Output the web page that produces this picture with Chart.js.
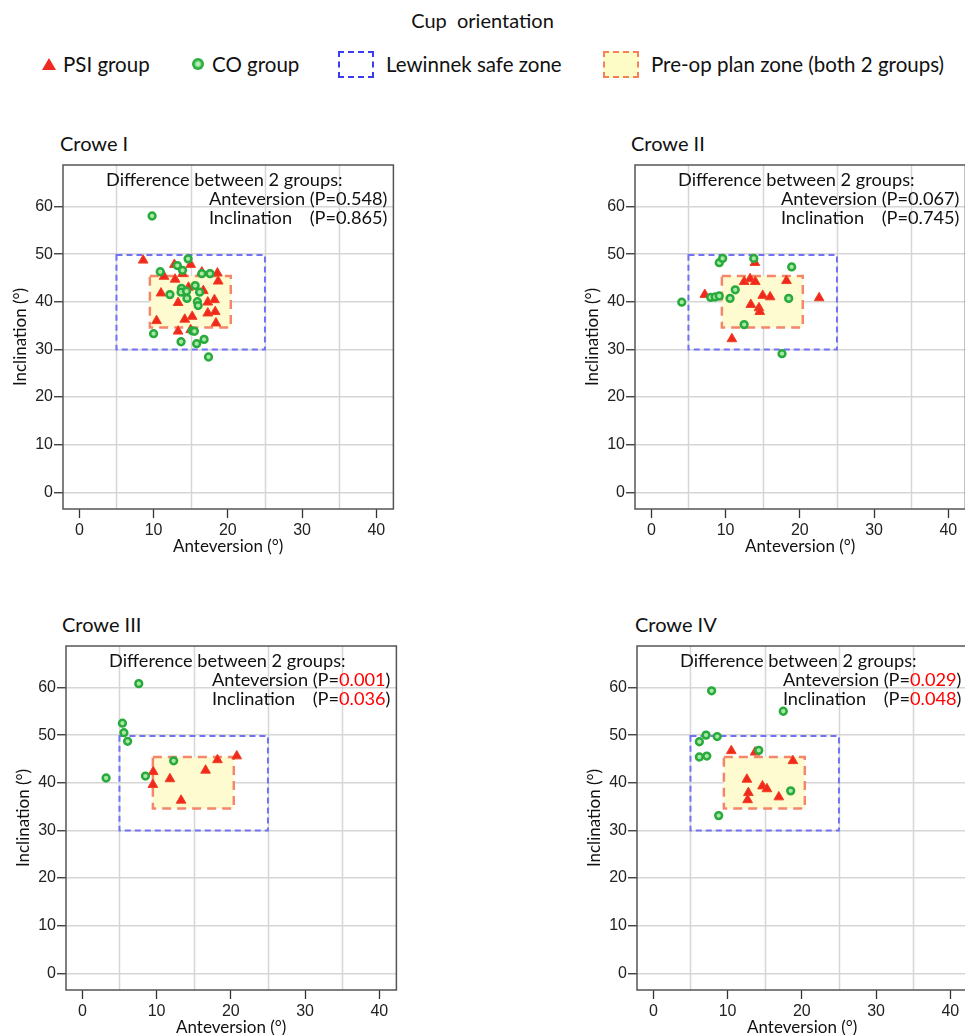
<!DOCTYPE html>
<html>
<head>
<meta charset="utf-8">
<script src="https://cdn.jsdelivr.net/npm/chart.js@4.4.0/dist/chart.umd.min.js"></script>
<style>
  body { margin:0; width:965px; height:1035px; overflow:hidden; background:#fff; position:relative; font-family:Lato, "Open Sans", sans-serif; color:#111; }
  .title { position:absolute; top:8px; left:0; width:965px; text-align:center; font-size:20px; white-space:pre; }
  .lg { position:absolute; top:51px; font-size:20.5px; line-height:26px; white-space:nowrap; }
  .tri { position:absolute; left:42px; top:58px; width:0; height:0; border-left:7px solid transparent; border-right:7px solid transparent; border-bottom:12px solid #ee2a22; }
  .dot { position:absolute; left:192px; top:58px; width:12px; height:12px; border-radius:50%; background:radial-gradient(circle, #b5efb5 0 20%, #2cae3f 48%); }
  .box { position:absolute; top:51px; width:32px; height:23px; border:2px dashed; }
  .ptitle { position:absolute; font-size:20px; line-height:22px; }
  canvas { position:absolute; }
</style>
</head>
<body>
<div class="title">Cup  orientation</div>
<div class="tri"></div><div class="lg" style="left:63px">PSI group</div>
<div class="dot"></div><div class="lg" style="left:212px">CO group</div>
<div class="box" style="left:338px; border-color:#3b3bf2;"></div><div class="lg" style="left:386px">Lewinnek safe zone</div>
<div class="box" style="left:603px; border-color:#f4805c; background:#fdfbc6;"></div><div class="lg" style="left:651px">Pre-op plan zone (both 2 groups)</div>

<div class="ptitle" style="left:60px; top:132px">Crowe I</div>
<div class="ptitle" style="left:631px; top:132px">Crowe II</div>
<div class="ptitle" style="left:62px; top:613px">Crowe III</div>
<div class="ptitle" style="left:635px; top:613px">Crowe IV</div>

<canvas id="c1" width="400" height="440" style="left:0px; top:120px"></canvas>
<canvas id="c2" width="400" height="440" style="left:572px; top:120px"></canvas>
<canvas id="c3" width="400" height="440" style="left:3px; top:601px"></canvas>
<canvas id="c4" width="400" height="440" style="left:574px; top:601px"></canvas>

<script>
// axes
const xTicks = [0, 10, 20, 30, 40];
const yTicks = [0, 10, 20, 30, 40, 50, 60];
const vGrid = [5, 15, 25, 35];
// zones: [xMin, xMax, yMin, yMax]
const safeZone = [5, 25, 30, 49.8];
const planZone = [9.5, 20.4, 34.6, 45.4];

// p values per panel (Crowe I..IV)
const anteP = ['0.548', '0.067', '0.001', '0.029'];
const inclP = ['0.865', '0.745', '0.036', '0.048'];
const isSig = [false, false, true, true];

// [anteversion, inclination]
const psi1 = [[8.6,48.7],[12.8,47.8],[15.0,47.8],[13.9,45.9],[16.5,46.2],[18.6,46.0],[18.7,44.3],[11.4,45.3],[12.9,44.7],[11.0,41.8],[14.7,43.0],[16.7,42.3],[13.3,39.8],[17.3,39.9],[18.2,40.4],[17.3,37.6],[18.3,37.9],[10.4,36.0],[14.2,36.3],[15.2,36.9],[18.4,35.5],[13.3,33.8],[15.0,34.1]];
const co1 = [[9.8,58.0],[14.65,49.0],[10.9,46.3],[13.2,47.6],[13.9,46.6],[16.5,45.9],[17.6,45.9],[15.6,43.4],[13.75,42.8],[13.7,42.0],[14.45,42.2],[16.2,42.0],[12.2,41.5],[14.5,40.7],[15.9,40.0],[16.0,39.2],[10.0,33.3],[15.2,33.9],[15.5,33.8],[13.7,31.6],[15.8,31.2],[16.8,32.1],[17.4,28.4]];

const psi2 = [[13.95,48.2],[7.2,41.5],[12.5,44.2],[13.3,44.8],[14.0,44.2],[18.2,44.4],[15.0,41.3],[16.0,41.0],[22.6,40.8],[13.4,39.4],[14.5,38.7],[14.6,37.9],[10.85,32.2]];
const co2 = [[4.1,39.9],[9.15,48.2],[9.6,49.1],[13.8,49.1],[18.9,47.3],[8.0,40.9],[8.6,41.0],[9.15,41.2],[10.6,40.7],[11.3,42.5],[18.5,40.7],[12.5,35.2],[17.6,29.1]];

const psi3 = [[9.55,42.3],[9.5,39.6],[11.8,40.8],[13.3,36.3],[16.6,42.6],[18.2,44.8],[20.8,45.6]];
const co3 = [[7.6,60.8],[5.4,52.5],[5.6,50.5],[6.1,48.7],[3.2,41.0],[8.5,41.4],[12.3,44.6]];

const psi4 = [[10.5,46.7],[13.7,46.4],[18.8,44.6],[12.6,40.7],[12.8,37.9],[12.7,36.4],[14.7,39.3],[15.3,38.7],[16.9,37.0]];
const co4 = [[7.85,59.3],[17.5,55.0],[7.1,50.0],[8.6,49.7],[6.2,48.6],[6.2,45.4],[7.2,45.6],[14.2,46.8],[18.5,38.3],[8.8,33.1]];

const TEXT_FONT = '18.2px Lato';

function toPoints(arr) {
  return arr.map(p => ({ x: p[0], y: p[1] }));
}

function rectPx(chart, z) {
  const sx = chart.scales.x, sy = chart.scales.y;
  const x1 = sx.getPixelForValue(z[0]), x2 = sx.getPixelForValue(z[1]);
  const y1 = sy.getPixelForValue(z[3]), y2 = sy.getPixelForValue(z[2]);
  return [x1, y1, x2 - x1, y2 - y1];
}

// grid at 5/15/25/35, zones, frame and the p-value text
const zonesPlugin = {
  id: 'zones',
  beforeDatasetsDraw(chart) {
    const ctx = chart.ctx, a = chart.chartArea, sx = chart.scales.x;
    ctx.save();
    ctx.strokeStyle = '#d6d6d6';
    ctx.lineWidth = 1.5;
    vGrid.forEach(v => {
      const px = Math.round(sx.getPixelForValue(v)) + 0.5;
      ctx.beginPath();
      ctx.moveTo(px, a.top);
      ctx.lineTo(px, a.bottom);
      ctx.stroke();
    });

    const p = rectPx(chart, planZone);
    ctx.fillStyle = '#fefbd0';
    ctx.fillRect(p[0], p[1], p[2], p[3]);
    ctx.setLineDash([9, 6]);
    ctx.strokeStyle = '#f4866a';
    ctx.lineWidth = 2.5;
    ctx.strokeRect(p[0], p[1], p[2], p[3]);

    const s = rectPx(chart, safeZone);
    ctx.setLineDash([6, 4]);
    ctx.strokeStyle = '#7272f4';
    ctx.lineWidth = 2;
    ctx.strokeRect(s[0], s[1], s[2], s[3]);
    ctx.restore();
  },
  afterDatasetsDraw(chart, args, opts) {
    const ctx = chart.ctx, a = chart.chartArea;
    ctx.save();
    ctx.strokeStyle = '#555';
    ctx.lineWidth = 1.5;
    ctx.strokeRect(a.left, a.top, a.right - a.left, a.bottom - a.top);

    ctx.font = TEXT_FONT;
    ctx.fillStyle = '#111';
    ctx.textBaseline = 'middle';
    ctx.textAlign = 'left';
    ctx.fillText('Difference between 2 groups:', a.left + 43, a.top + 15);

    const R = a.right - 6;
    const labelX = R - ctx.measureText('Anteversion (P=' + opts.ante + ')').width;
    ctx.fillText('Anteversion', labelX, a.top + 34);
    ctx.fillText('Inclination', labelX, a.top + 53);
    drawP(ctx, opts.ante, R, a.top + 34, opts.sig);
    drawP(ctx, opts.incl, R, a.top + 53, opts.sig);
    ctx.restore();
  }
};

function drawP(ctx, val, right, y, sig) {
  ctx.textAlign = 'right';
  ctx.fillStyle = '#111';
  ctx.fillText(')', right, y);
  let x = right - ctx.measureText(')').width;
  ctx.fillStyle = sig ? '#ff0000' : '#111';
  ctx.fillText(val, x, y);
  x -= ctx.measureText(val).width;
  ctx.fillStyle = '#111';
  ctx.fillText('(P=', x, y);
}

function makePanel(id, psi, co, idx) {
  return new Chart(document.getElementById(id), {
    type: 'scatter',
    data: {
      datasets: [
        {
          label: 'CO group',
          data: toPoints(co),
          pointStyle: 'circle',
          pointRadius: 3.4,
          backgroundColor: '#a6e8a6',
          borderColor: '#29aa3c',
          borderWidth: 2.5,
          order: 0
        },
        {
          label: 'PSI group',
          data: toPoints(psi),
          pointStyle: 'triangle',
          pointRadius: 5.6,
          backgroundColor: '#f0281f',
          borderColor: '#f0401f',
          borderWidth: 1,
          order: 1
        }
      ]
    },
    options: {
      responsive: false,
      animation: false,
      events: [],
      layout: { padding: { top: 45, right: 6, left: 0, bottom: 0 } },
      plugins: {
        legend: { display: false },
        tooltip: { enabled: false },
        zones: { ante: anteP[idx], incl: inclP[idx], sig: isSig[idx] }
      },
      scales: {
        x: {
          type: 'linear',
          min: -2.2,
          max: 42.3,
          afterBuildTicks: axis => { axis.ticks = xTicks.map(v => ({ value: v })); },
          afterFit: axis => { axis.height = 51; },
          grid: { drawOnChartArea: false, drawTicks: true, tickLength: 9, tickColor: '#333', tickWidth: 1.3 },
          border: { display: false },
          ticks: { color: '#222', font: { family: 'Liberation Sans', size: 16 }, padding: 3, maxRotation: 0 },
          title: { display: true, text: 'Anteversion (°)', color: '#111', font: { family: 'Lato', size: 17 }, padding: { top: 0, bottom: 3 } }
        },
        y: {
          type: 'linear',
          min: -3.5,
          max: 68.7,
          afterBuildTicks: axis => { axis.ticks = yTicks.map(v => ({ value: v })); },
          afterFit: axis => { axis.width = 63; },
          grid: { color: '#d6d6d6', lineWidth: 1.5, drawTicks: true, tickLength: 9, tickColor: '#333', tickWidth: 1.3 },
          border: { display: false },
          ticks: { color: '#222', font: { family: 'Liberation Sans', size: 16 }, padding: 1 },
          title: { display: true, text: 'Inclination (°)', color: '#111', font: { family: 'Lato', size: 17 }, padding: { top: 10, bottom: 0 } }
        }
      }
    },
    plugins: [zonesPlugin]
  });
}

Promise.all([
  document.fonts.load('18px Lato'),
  document.fonts.load('16px "Liberation Sans"')
]).catch(() => {}).then(() => {
  makePanel('c1', psi1, co1, 0);
  makePanel('c2', psi2, co2, 1);
  makePanel('c3', psi3, co3, 2);
  makePanel('c4', psi4, co4, 3);
});
</script>
</body>
</html>
